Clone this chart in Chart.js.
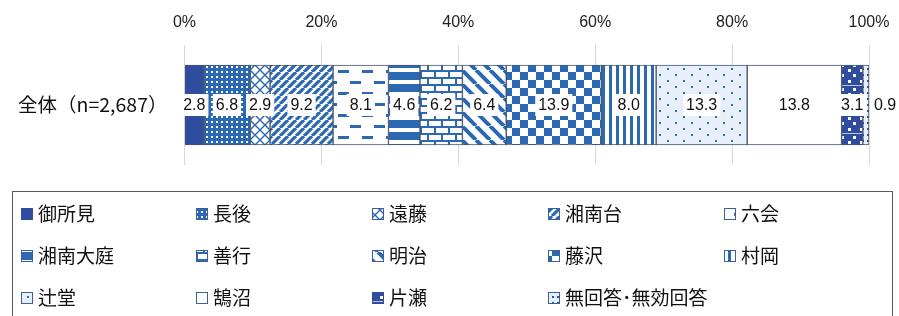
<!DOCTYPE html>
<html><head><meta charset="utf-8">
<script src="https://cdn.jsdelivr.net/npm/chart.js@4.4.1/dist/chart.umd.min.js"></script>
<style>html,body{margin:0;padding:0;background:#fff}#wrap{width:899px;height:316px;position:relative}</style>
</head><body><div id="wrap"><canvas id="c"></canvas></div>
<script>
const categories = ['全体（n=2,687）'];
const seriesNames = ['御所見','長後','遠藤','湘南台','六会','湘南大庭','善行','明治','藤沢','村岡','辻堂','鵠沼','片瀬','無回答･無効回答'];
const values = [2.8, 6.8, 2.9, 9.2, 8.1, 4.6, 6.2, 6.4, 13.9, 8.0, 13.3, 13.8, 3.1, 0.9];
const tickValues = [0, 20, 40, 60, 80, 100];
const patternKinds = ['solidNavy','dots','lattice','fwd','dashes','hstripes','brick','back','check','vstripes','lightDots','white','navySquares','tinyDots'];

const B = '#2b69b3', N = '#2f4c9e', LB = '#e7f0f9';

function tile(w, h, draw) {
  const c = document.createElement('canvas'); c.width = w; c.height = h;
  const g = c.getContext('2d'); draw(g, w, h);
  return document.createElement('canvas').getContext('2d').createPattern(c, 'repeat');
}
function makeFill(kind) {
  switch (kind) {
    case 'solidNavy': return N;
    case 'white': return '#ffffff';
    case 'dots': return tile(5, 5, (g) => { g.fillStyle = B; g.fillRect(0,0,5,5); g.fillStyle = '#fff'; g.fillRect(1,1,2,2); });
    case 'lattice': return tile(10, 10, (g) => { g.fillStyle = '#fff'; g.fillRect(0,0,10,10); g.strokeStyle = B; g.lineWidth = 1.4;
      g.beginPath(); g.moveTo(0,0); g.lineTo(10,10); g.moveTo(10,0); g.lineTo(0,10); g.stroke(); });
    case 'fwd': return tile(8, 8, (g) => { g.fillStyle = '#fff'; g.fillRect(0,0,8,8); g.strokeStyle = B; g.lineWidth = 3.2;
      g.beginPath(); for (let k=-8;k<=16;k+=8){ g.moveTo(k,8); g.lineTo(k+8,0);} g.stroke(); });
    case 'dashes': return tile(24, 22, (g) => { g.fillStyle = '#fff'; g.fillRect(0,0,24,22); g.fillStyle = B;
      g.fillRect(2,4,11,3); g.fillRect(14,15,11,3); g.fillRect(-10,15,11,3); });
    case 'hstripes': return tile(4, 12, (g) => { g.fillStyle = '#fff'; g.fillRect(0,0,4,12); g.fillStyle = B; g.fillRect(0,0,4,8); });
    case 'brick': return tile(14, 14, (g) => { g.fillStyle = '#fff'; g.fillRect(0,0,14,14); g.fillStyle = B;
      g.fillRect(0,0,14,2); g.fillRect(0,7,14,2); g.fillRect(0,0,2,7); g.fillRect(7,7,2,7); });
    case 'back': return tile(14, 14, (g) => { g.fillStyle = '#fff'; g.fillRect(0,0,14,14); g.strokeStyle = B; g.lineWidth = 4;
      g.beginPath(); for (let k=-14;k<=28;k+=14){ g.moveTo(k,0); g.lineTo(k+14,14);} g.stroke(); });
    case 'check': return tile(16, 16, (g) => { g.fillStyle = '#fff'; g.fillRect(0,0,16,16); g.fillStyle = B; g.fillRect(0,0,8,8); g.fillRect(8,8,8,8); });
    case 'vstripes': return tile(7, 4, (g) => { g.fillStyle = '#fff'; g.fillRect(0,0,7,4); g.fillStyle = B; g.fillRect(0,0,3,4); });
    case 'lightDots': return tile(16, 12, (g) => { g.fillStyle = LB; g.fillRect(0,0,16,12); g.fillStyle = B; g.fillRect(3,2,2,2); g.fillRect(11,8,2,2); });
    case 'navySquares': return tile(12, 24, (g) => { g.fillStyle = N; g.fillRect(0,0,12,24); g.fillStyle = '#fff';
      g.fillRect(1,2,3,3); g.fillRect(8,8,3,3); g.fillRect(1,16,3,3); g.fillRect(8,21,3,3); g.fillStyle = '#b9c3dc'; g.fillRect(0,13,12,1); });
    case 'tinyDots': return tile(5, 6, (g) => { g.fillStyle = LB; g.fillRect(0,0,5,6); g.fillStyle = N; g.fillRect(2,2,2,2); });
  }
}

const fills = patternKinds.map(makeFill);

const datasets = seriesNames.map((name, i) => ({
  label: name,
  data: [values[i]],
  backgroundColor: fills[i],
  borderColor: '#45556c',
  borderWidth: 1,
  borderSkipped: false,
  barThickness: 80
}));

const labelPlugin = {
  id: 'valueLabels',
  afterDatasetsDraw(chart) {
    const ctx = chart.ctx;
    ctx.save();
    ctx.font = '16px "Liberation Sans", Arial, sans-serif';
    ctx.textAlign = 'center'; ctx.textBaseline = 'middle';
    chart.data.datasets.forEach((ds, i) => {
      const el = chart.getDatasetMeta(i).data[0];
      const p = el.getProps(['x', 'base', 'y'], true);
      const txt = values[i].toFixed(1);
      const w = ctx.measureText(txt).width;
      let cx = (p.x + p.base) / 2;
      const last = i === chart.data.datasets.length - 1;
      if (last) {
        cx = chart.chartArea.right + 16;
      } else {
        ctx.fillStyle = '#fff';
        ctx.fillRect(cx - w / 2 - 3, p.y - 11, w + 6, 22);
      }
      ctx.fillStyle = '#111';
      ctx.fillText(txt, cx, p.y + 1);
    });
    ctx.restore();
  }
};

const legendPlugin = {
  id: 'gridLegend',
  afterDraw(chart) {
    const ctx = chart.ctx;
    ctx.save();
    ctx.strokeStyle = '#5a5a5a'; ctx.lineWidth = 1;
    ctx.strokeRect(12.5, 191.5, 880, 200);
    const colX = [21, 196, 372, 548, 724];
    const rowY = [214, 256, 298];
    ctx.font = '19px "Noto Sans CJK JP", sans-serif';
    ctx.textBaseline = 'middle'; ctx.textAlign = 'left';
    chart.data.datasets.forEach((ds, i) => {
      const x = colX[i % 5], y = rowY[Math.floor(i / 5)];
      ctx.fillStyle = ds.backgroundColor;
      ctx.fillRect(x, y - 6, 12, 12);
      ctx.strokeStyle = (i === 0 || i === 12) ? N : '#3a5f9c';
      ctx.strokeRect(x + 0.5, y - 5.5, 11, 11);
      ctx.fillStyle = '#111';
      ctx.fillText(ds.label, x + 17, y);
    });
    ctx.restore();
  }
};

new Chart(document.getElementById('c'), {
  type: 'bar',
  data: { labels: categories, datasets },
  options: {
    indexAxis: 'y',
    responsive: true,
    maintainAspectRatio: false,
    animation: false,
    layout: { padding: { top: 0, right: 30, bottom: 151, left: 0 } },
    plugins: { legend: { display: false }, tooltip: { enabled: false } },
    scales: {
      x: {
        stacked: true, position: 'top', min: 0, max: 100,
        afterBuildTicks(scale) { scale.ticks = tickValues.map(v => ({ value: v })); },
        afterFit(scale) { scale.height = 45; scale.paddingLeft = 0; scale.paddingRight = 0; },
        ticks: { padding: 13, color: '#222', font: { family: '"Liberation Sans", Arial, sans-serif', size: 16 }, callback: v => v + '%', maxRotation: 0 },
        grid: { color: '#d9d9d9', drawTicks: false, lineWidth: 1 },
        border: { display: false }
      },
      y: {
        stacked: true,
        afterFit(scale) { scale.width = 184.5; },
        ticks: { padding: 9, color: '#111', font: { family: '"Noto Sans CJK JP", sans-serif', size: 19.5 } },
        grid: { display: false },
        border: { display: false }
      }
    }
  },
  plugins: [labelPlugin, legendPlugin]
});
</script>
</body></html>
